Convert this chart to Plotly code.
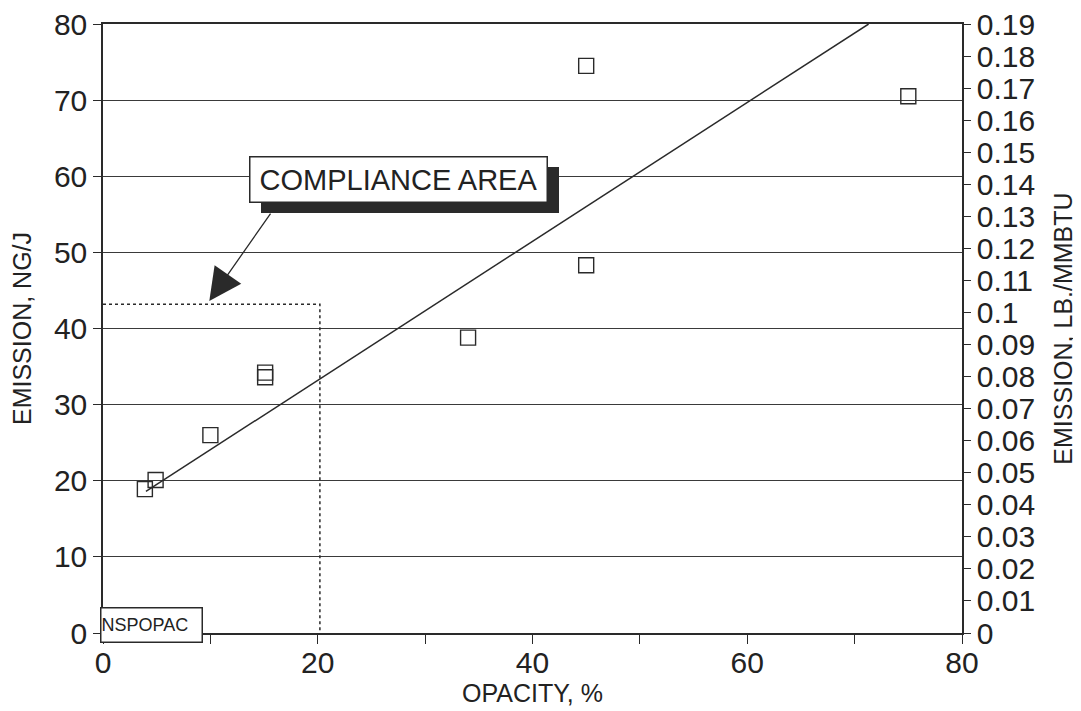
import plotly.graph_objects as go

# ---- data ----
opacity = [3.9, 4.9, 10.0, 15.1, 15.1, 34.0, 45.0, 45.0, 75.0]
emission = [18.9, 20.1, 26.0, 34.2, 33.6, 38.8, 74.5, 48.3, 70.5]

fit_x = [4.0, 71.3]
fit_y = [18.6, 80.0]

comp_x = [0, 20.2, 20.2]
comp_y = [43.2, 43.2, 0]

x_tickvals = [0, 10, 20, 30, 40, 50, 60, 70, 80]
x_ticktext = ["0", "", "20", "", "40", "", "60", "", "80"]
y_tickvals = [0, 10, 20, 30, 40, 50, 60, 70, 80]
y2_tickvals = [i / 100 for i in range(20)]
y2_ticktext = ["0"] + ["%g" % v for v in y2_tickvals[1:]]

FONT = "Liberation Sans, Arial, Helvetica, sans-serif"
INK = "#2a2a2a"

fig = go.Figure()

fig.add_trace(go.Scatter(
    x=comp_x, y=comp_y, mode="lines",
    line=dict(color=INK, width=1.5, dash="dot"),
    showlegend=False, hoverinfo="skip", cliponaxis=False))

fig.add_trace(go.Scatter(
    x=fit_x, y=fit_y, mode="lines",
    line=dict(color=INK, width=1.5),
    showlegend=False, hoverinfo="skip"))

fig.add_trace(go.Scatter(
    x=opacity, y=emission, mode="markers",
    marker=dict(symbol="square-open", size=15, color=INK, line=dict(width=1.4)),
    showlegend=False))

# invisible trace to activate right axis
fig.add_trace(go.Scatter(
    x=[0], y=[0], yaxis="y2", mode="markers",
    marker=dict(opacity=0), showlegend=False, hoverinfo="skip"))

# Compliance area callout: shadow then box
fig.add_annotation(x=27.5, y=59.6, xref="x", yref="y", text=" ",
                   showarrow=False, width=296, height=44, bgcolor=INK,
                   bordercolor=INK, borderwidth=1, borderpad=0,
                   xshift=12, yshift=-11, font=dict(size=26, family=FONT))
fig.add_annotation(x=27.5, y=59.6, xref="x", yref="y", text="COMPLIANCE AREA",
                   showarrow=False, width=296, height=44, bgcolor="white",
                   bordercolor=INK, borderwidth=1.5, borderpad=0,
                   font=dict(size=29, family=FONT, color="#222"))

# arrow
fig.add_annotation(x=9.9, y=43.6, ax=15.7, ay=55.3, xref="x", yref="y",
                   axref="x", ayref="y", text="", showarrow=True,
                   arrowhead=2, arrowsize=5, arrowwidth=1.3, arrowcolor=INK)

# NSPOPAC label box
fig.add_annotation(x=0, y=1.05, xref="x", yref="y", text="NSPOPAC",
                   xanchor="left", yanchor="middle", showarrow=False,
                   xshift=-3, width=100, height=33, align="left",
                   bgcolor="white", bordercolor=INK, borderwidth=1.5,
                   borderpad=0, font=dict(size=18, family=FONT, color="#222"))

# page body has an 8px margin, so the figure is sized to fit the window
fig.update_layout(
    width=1073, height=703,
    margin=dict(l=95, r=119, t=16, b=78),
    paper_bgcolor="white", plot_bgcolor="white",
    font=dict(family=FONT, color="#222"),
    xaxis=dict(range=[0, 80], tickvals=x_tickvals, ticktext=x_ticktext,
               showgrid=False, zeroline=False, showline=True, linecolor=INK,
               linewidth=1.5, mirror=True, ticks="outside", ticklen=9,
               tickcolor=INK, tickwidth=1.2, tickfont=dict(size=30),
               automargin=False, ticklabeloverflow="allow",
               ticklabelstandoff=-7,
               title=dict(text="OPACITY, %", font=dict(size=25), standoff=0)),
    yaxis=dict(range=[0, 80], tickvals=y_tickvals, showgrid=True,
               gridcolor="#3a3a3a", gridwidth=1.2, zeroline=False,
               showline=True, linecolor=INK, linewidth=1.5, ticks="outside",
               ticklen=8, tickcolor=INK, tickwidth=1.2, tickfont=dict(size=30),
               automargin=False, ticklabeloverflow="allow",
               title=dict(text="EMISSION, NG/J", font=dict(size=25), standoff=24)),
    yaxis2=dict(range=[0, 0.19], overlaying="y", side="right",
                tickvals=y2_tickvals, ticktext=y2_ticktext, showgrid=False,
                zeroline=False, showline=True, linecolor=INK, linewidth=1.5,
                ticks="outside", ticklen=7, tickcolor=INK, tickwidth=1.2,
                tickfont=dict(size=30), automargin=False, ticklabeloverflow="allow",
                title=dict(text="EMISSION, LB./MMBTU", font=dict(size=25), standoff=20)),
)

fig.write_html("out.html")
